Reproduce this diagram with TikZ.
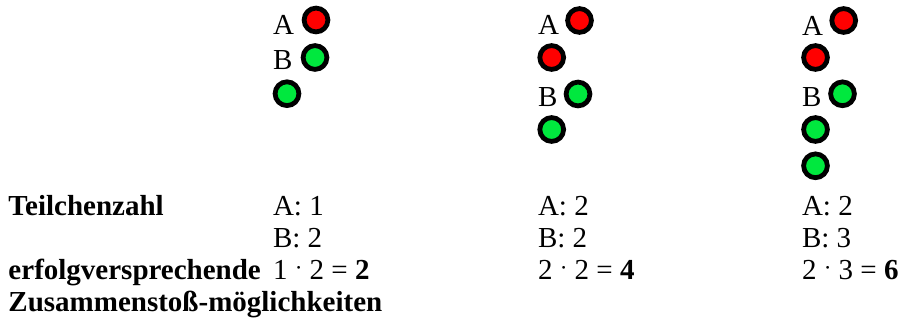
\documentclass[tikz,border=0pt]{standalone}
\usepackage{fontspec}
\setmainfont{Liberation Serif}
\usepackage{graphicx}
\definecolor{ballred}{RGB}{255,0,0}
\definecolor{ballgreen}{RGB}{0,232,62}
\newcommand{\mdot}{\raisebox{0.14em}{\scalebox{0.8}{·}}}
\begin{document}
\begin{tikzpicture}[x=1pt,y=-1pt,
  ball/.style={circle,draw=black,line width=4.8pt,minimum size=23.8pt,inner sep=0pt},
  redball/.style={ball,fill=ballred},
  greenball/.style={ball,fill=ballgreen},
  txt/.style={anchor=base west,inner sep=0pt,outer sep=0pt,font=\fontsize{29}{32}\selectfont},
  btxt/.style={txt,font=\fontsize{29}{32}\selectfont\bfseries}]
\useasboundingbox (0,0) rectangle (900,331);
% column 1
\node[txt] (la1) at (273,35) {A};
\node[txt] (lb1) at (273,70) {B};
\node[redball] (a11) at (316,20) {};
\node[greenball] (b11) at (315,57.5) {};
\node[greenball] (b12) at (287,93.7) {};
% column 2
\node[txt] (la2) at (538,35) {A};
\node[txt] (lb2) at (538,106.7) {B};
\node[redball] (a21) at (579.5,20.5) {};
\node[redball] (a22) at (551.7,57.5) {};
\node[greenball] (b21) at (578,94) {};
\node[greenball] (b22) at (551.7,129.5) {};
% column 3
\node[txt] (la3) at (802,35.5) {A};
\node[txt] (lb3) at (802,106.7) {B};
\node[redball] (a31) at (843.7,20.5) {};
\node[redball] (a32) at (815.5,57.5) {};
\node[greenball] (b31) at (842.5,93.8) {};
\node[greenball] (b32) at (815.5,129.5) {};
\node[greenball] (b33) at (815.5,165.8) {};
% row labels
\node[btxt] (t1) at (8.5,215.7) {Teilchenzahl};
\node[btxt] (t2) at (8.5,279.5) {erfolgversprechende};
\node[btxt] (t3) at (8.5,311.5) {Zusammenstoß-möglichkeiten};
% values
\node[txt] (n1a) at (273,215.7) {A: 1};
\node[txt] (n1b) at (273,247.7) {B: 2};
\node[txt] (n1c) at (273,279.5) {1 \mdot{} 2 = \textbf{2}};
\node[txt] (n2a) at (538,215.7) {A: 2};
\node[txt] (n2b) at (538,247.7) {B: 2};
\node[txt] (n2c) at (538,279.5) {2 \mdot{} 2 = \textbf{4}};
\node[txt] (n3a) at (802,215.7) {A: 2};
\node[txt] (n3b) at (802,247.7) {B: 3};
\node[txt] (n3c) at (802,279.5) {2 \mdot{} 3 = \textbf{6}};
\end{tikzpicture}
\end{document}
